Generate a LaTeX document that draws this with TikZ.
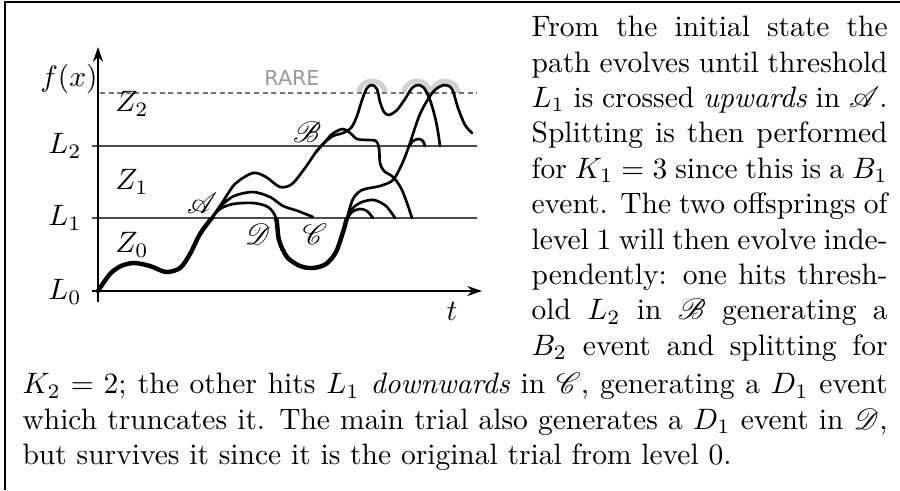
\documentclass[tikz,border=0pt]{standalone}
\usepackage{fontspec}
\usepackage{amsmath,amssymb}
\usepackage{mathrsfs}
\usepackage{tikz}
\usetikzlibrary{arrows.meta,positioning,calc}
\newfontfamily\raresans{DejaVu Sans}
\tikzset{
  axis/.style={line width=0.8pt,-{Stealth[length=5pt,width=3.4pt]}},
  level/.style={draw=black!70,line width=0.45pt},
  rareline/.style={draw=black!55,line width=0.45pt,dash pattern=on 1.7pt off 1.2pt},
  trial/.style={line width=0.9pt,line cap=round,line join=round},
  maintrial/.style={line width=1.5pt,line cap=round,line join=round},
  hump/.style={draw=black!18,line width=1.7pt},
  lbl/.style={inner sep=0pt},
  story/.style={anchor=base west,inner sep=0pt,align=justify},
}
\def\mainpath{plot[smooth] coordinates {(98,291) (110,274) (121,266) (134,263) (150,266)
  (166,272) (180,268) (190,254) (200,234) (211,219) (220,209) (233,204) (253,203)
  (268,207) (276,218) (279,240) (287,257) (300,266) (313,268) (326,264) (336,252)
  (343,232) (347,218) (353,199) (362,190) (380,186) (393,180) (402,164) (409,146)
  (420,114) (433,92) (444,85) (452,89) (458,108) (465,125) (472,133)}}

\begin{document}
\begin{tikzpicture}[x=0.339pt,y=-0.339pt]
\useasboundingbox (0,0) rectangle (900,490);
% frame
\draw[line width=0.4pt] (5,490) -- (5,2) -- (900,2);

% humps above the rare set
\foreach \cx in {372,417,445}
  \draw[hump] (\cx-13,93) arc[start angle=180,end angle=360,x radius=13,y radius=12];

% thresholds
\draw[level] (92,218) -- (477,218);
\draw[level] (92,146) -- (477,146);
\draw[rareline] (100,93) -- (477,93);

% axes
\coordinate (O) at (98,291);
\draw[axis] (98,302) -- (98,47);
\draw[axis] (92,291) -- (482,291);

\node[lbl] (fx) at (69,79) {$f(x)$};
\node[lbl] (l0) at (65,292) {$L_0$};
\node[lbl] (l1) at (65,218) {$L_1$};
\node[lbl] (l2) at (65,146) {$L_2$};
\node[lbl] (z0) at (132,245) {$Z_0$};
\node[lbl] (z1) at (132,182) {$Z_1$};
\node[lbl] (z2) at (132,104) {$Z_2$};
\node[lbl] (tt) at (452,311) {$t$};
\node[lbl,text=black!40,font=\raresans\fontsize{7}{8}\selectfont] (rare) at (292,78) {RARE};

% trials
\draw[trial] \mainpath;
\begin{scope}
  \clip (80,218) rectangle (480,300);
  \draw[maintrial] \mainpath;
\end{scope}
% offsprings at A
\draw[trial] plot[smooth] coordinates {(211,219) (222,203) (235,184) (253,173) (266,177)
  (280,187) (292,184) (305,168) (316,152) (324,143) (333,136) (343,133) (351,128)
  (357,116) (362,100) (367,88) (372,85) (377,89) (380,102) (384,112) (389,115)
  (397,110) (405,99) (412,88) (418,85) (424,88) (430,100) (435,117) (438,132) (440,146)};
\draw[trial] plot[smooth] coordinates {(211,219) (221,206) (234,196) (253,192) (270,197)
  (283,206) (298,211) (313,217)};
% offspring at B
\draw[trial] plot[smooth] coordinates {(316,152) (324,143) (331,135) (337,131) (343,129)
  (349,132) (357,139) (368,140) (376,141) (379,148) (380,163) (384,171) (393,177)
  (401,188) (407,203) (412,218)};
% short offsprings of the main trial
\draw[trial] plot[smooth] coordinates {(347,219) (352,212) (360,209) (367,211) (373,218)};
\draw[trial] plot[smooth] coordinates {(347,219) (353,208) (362,202) (374,200) (386,206) (395,218)};
\draw[trial] plot[smooth] coordinates {(408,148) (413,141) (419,139) (423,141) (425,146)};

% events
\node[lbl] (evA) at (202,203) {$\mathscr{A}$};
\node[lbl] (evB) at (307,132) {$\mathscr{B}$};
\node[lbl] (evD) at (258,234) {$\mathscr{D}$};
\node[lbl] (evC) at (315,234) {$\mathscr{C}$};

% caption text
\node[story,text width=120.7pt] (col) at (531,36.7) {%
  From the initial state the\linebreak
  path evolves until threshold\linebreak
  $L_1$ is crossed \emph{upwards} in $\mathscr{A}$.\linebreak
  Splitting is then performed\linebreak
  for $K_1=3$ since this is a $B_1$\linebreak
  event. The two offsprings of\linebreak
  level 1 will then evolve inde-\linebreak
  pendently: one hits thresh-\linebreak
  old $L_2$ in $\mathscr{B}$ generating a\linebreak
  $B_2$ event and splitting for\linebreak\mbox{}};
\node[story,text width=293.2pt] (rest) at (22,393.7) {%
  $K_2=2$; the other hits $L_1$ \emph{downwards} in $\mathscr{C}$, generating a $D_1$ event\linebreak
  which truncates it. The main trial also generates a $D_1$ event in $\mathscr{D}$,\linebreak
  but survives it since it is the original trial from level 0.};
\end{tikzpicture}
\end{document}
